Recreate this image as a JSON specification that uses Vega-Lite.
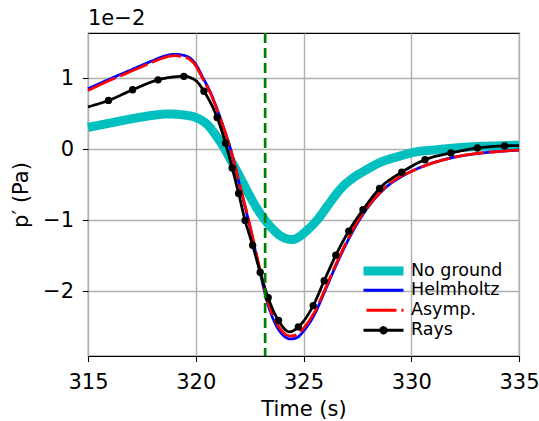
{
  "$schema": "https://vega.github.io/schema/vega-lite/v6.json",
  "width": 431,
  "height": 323,
  "autosize": {"type": "none"},
  "padding": {"left": 88, "top": 33, "right": 20, "bottom": 65},
  "background": "white",
  "title": {"text": "1e−2", "anchor": "start", "frame": "group", "baseline": "alphabetic", "offset": -14, "fontSize": 21, "font": "DejaVu Sans", "fontWeight": "normal", "color": "black"},
  "config": {
    "font": "DejaVu Sans",
    "view": {"stroke": "black", "strokeWidth": 1.1},
    "axis": {
      "labelFont": "DejaVu Sans", "labelFontSize": 21, "labelColor": "black",
      "titleFont": "DejaVu Sans", "titleFontSize": 21, "titleFontWeight": "normal", "titleColor": "black",
      "tickColor": "black", "tickSize": 5.5, "tickWidth": 1.1, "domain": false, "labelFlush": false,
      "grid": true, "gridColor": "#b0b0b0", "gridWidth": 1.4
    },
    "legend": {
      "labelFont": "DejaVu Sans", "labelFontSize": 17.5, "labelColor": "black"
    }
  },
  "datasets": {
    "curves": [
      {"series": "No ground", "t": 315, "p": 0.31},
      {"series": "No ground", "t": 316, "p": 0.37},
      {"series": "No ground", "t": 317, "p": 0.43},
      {"series": "No ground", "t": 318, "p": 0.48},
      {"series": "No ground", "t": 318.7, "p": 0.50},
      {"series": "No ground", "t": 319.3, "p": 0.49},
      {"series": "No ground", "t": 320, "p": 0.45},
      {"series": "No ground", "t": 320.6, "p": 0.33},
      {"series": "No ground", "t": 321, "p": 0.17},
      {"series": "No ground", "t": 321.3, "p": 0.03},
      {"series": "No ground", "t": 321.7, "p": -0.19},
      {"series": "No ground", "t": 322.14, "p": -0.44},
      {"series": "No ground", "t": 322.5, "p": -0.65},
      {"series": "No ground", "t": 322.9, "p": -0.86},
      {"series": "No ground", "t": 323.2, "p": -0.99},
      {"series": "No ground", "t": 323.6, "p": -1.13},
      {"series": "No ground", "t": 324, "p": -1.23},
      {"series": "No ground", "t": 324.5, "p": -1.27},
      {"series": "No ground", "t": 324.8, "p": -1.23},
      {"series": "No ground", "t": 325.2, "p": -1.13},
      {"series": "No ground", "t": 325.7, "p": -0.97},
      {"series": "No ground", "t": 326.2, "p": -0.76},
      {"series": "No ground", "t": 326.8, "p": -0.53},
      {"series": "No ground", "t": 327.4, "p": -0.38},
      {"series": "No ground", "t": 327.9, "p": -0.29},
      {"series": "No ground", "t": 328.5, "p": -0.19},
      {"series": "No ground", "t": 329.4, "p": -0.1},
      {"series": "No ground", "t": 330.3, "p": -0.03},
      {"series": "No ground", "t": 331, "p": -0.01},
      {"series": "No ground", "t": 332, "p": 0.02},
      {"series": "No ground", "t": 333, "p": 0.04},
      {"series": "No ground", "t": 334, "p": 0.05},
      {"series": "No ground", "t": 335, "p": 0.06},
      {"series": "Helmholtz", "t": 315, "p": 0.855},
      {"series": "Helmholtz", "t": 316, "p": 0.99},
      {"series": "Helmholtz", "t": 317, "p": 1.12},
      {"series": "Helmholtz", "t": 318, "p": 1.25},
      {"series": "Helmholtz", "t": 318.5, "p": 1.31},
      {"series": "Helmholtz", "t": 319, "p": 1.34},
      {"series": "Helmholtz", "t": 319.5, "p": 1.32},
      {"series": "Helmholtz", "t": 320, "p": 1.2},
      {"series": "Helmholtz", "t": 320.3, "p": 1.03},
      {"series": "Helmholtz", "t": 320.7, "p": 0.79},
      {"series": "Helmholtz", "t": 321, "p": 0.56},
      {"series": "Helmholtz", "t": 321.3, "p": 0.3},
      {"series": "Helmholtz", "t": 321.6, "p": 0.02},
      {"series": "Helmholtz", "t": 322, "p": -0.46},
      {"series": "Helmholtz", "t": 322.5, "p": -1.07},
      {"series": "Helmholtz", "t": 323, "p": -1.75},
      {"series": "Helmholtz", "t": 323.3, "p": -2.13},
      {"series": "Helmholtz", "t": 323.7, "p": -2.46},
      {"series": "Helmholtz", "t": 324, "p": -2.6},
      {"series": "Helmholtz", "t": 324.4, "p": -2.67},
      {"series": "Helmholtz", "t": 324.7, "p": -2.65},
      {"series": "Helmholtz", "t": 325, "p": -2.56},
      {"series": "Helmholtz", "t": 325.5, "p": -2.33},
      {"series": "Helmholtz", "t": 326, "p": -1.99},
      {"series": "Helmholtz", "t": 326.5, "p": -1.64},
      {"series": "Helmholtz", "t": 327, "p": -1.32},
      {"series": "Helmholtz", "t": 327.5, "p": -1.04},
      {"series": "Helmholtz", "t": 328, "p": -0.81},
      {"series": "Helmholtz", "t": 328.5, "p": -0.63},
      {"series": "Helmholtz", "t": 329, "p": -0.49},
      {"series": "Helmholtz", "t": 329.5, "p": -0.39},
      {"series": "Helmholtz", "t": 330, "p": -0.31},
      {"series": "Helmholtz", "t": 331, "p": -0.19},
      {"series": "Helmholtz", "t": 332, "p": -0.11},
      {"series": "Helmholtz", "t": 333, "p": -0.06},
      {"series": "Helmholtz", "t": 334, "p": -0.03},
      {"series": "Helmholtz", "t": 335, "p": -0.01},
      {"series": "Asymp.", "t": 315, "p": 0.83},
      {"series": "Asymp.", "t": 316, "p": 0.97},
      {"series": "Asymp.", "t": 317, "p": 1.1},
      {"series": "Asymp.", "t": 318, "p": 1.23},
      {"series": "Asymp.", "t": 318.5, "p": 1.29},
      {"series": "Asymp.", "t": 319, "p": 1.32},
      {"series": "Asymp.", "t": 319.5, "p": 1.3},
      {"series": "Asymp.", "t": 320, "p": 1.18},
      {"series": "Asymp.", "t": 320.3, "p": 1.01},
      {"series": "Asymp.", "t": 320.7, "p": 0.78},
      {"series": "Asymp.", "t": 321, "p": 0.55},
      {"series": "Asymp.", "t": 321.3, "p": 0.3},
      {"series": "Asymp.", "t": 321.6, "p": 0.02},
      {"series": "Asymp.", "t": 322, "p": -0.45},
      {"series": "Asymp.", "t": 322.5, "p": -1.05},
      {"series": "Asymp.", "t": 323, "p": -1.72},
      {"series": "Asymp.", "t": 323.3, "p": -2.1},
      {"series": "Asymp.", "t": 323.7, "p": -2.42},
      {"series": "Asymp.", "t": 324, "p": -2.56},
      {"series": "Asymp.", "t": 324.4, "p": -2.63},
      {"series": "Asymp.", "t": 324.7, "p": -2.61},
      {"series": "Asymp.", "t": 325, "p": -2.52},
      {"series": "Asymp.", "t": 325.5, "p": -2.3},
      {"series": "Asymp.", "t": 326, "p": -1.97},
      {"series": "Asymp.", "t": 326.5, "p": -1.62},
      {"series": "Asymp.", "t": 327, "p": -1.3},
      {"series": "Asymp.", "t": 327.5, "p": -1.02},
      {"series": "Asymp.", "t": 328, "p": -0.8},
      {"series": "Asymp.", "t": 328.5, "p": -0.62},
      {"series": "Asymp.", "t": 329, "p": -0.48},
      {"series": "Asymp.", "t": 329.5, "p": -0.38},
      {"series": "Asymp.", "t": 330, "p": -0.31},
      {"series": "Asymp.", "t": 331, "p": -0.19},
      {"series": "Asymp.", "t": 332, "p": -0.11},
      {"series": "Asymp.", "t": 333, "p": -0.06},
      {"series": "Asymp.", "t": 334, "p": -0.03},
      {"series": "Asymp.", "t": 335, "p": -0.01},
      {"series": "Rays", "t": 315, "p": 0.6},
      {"series": "Rays", "t": 315.95, "p": 0.69},
      {"series": "Rays", "t": 317.07, "p": 0.84},
      {"series": "Rays", "t": 318.25, "p": 0.98},
      {"series": "Rays", "t": 319.45, "p": 1.03},
      {"series": "Rays", "t": 320, "p": 0.97},
      {"series": "Rays", "t": 320.38, "p": 0.82},
      {"series": "Rays", "t": 320.99, "p": 0.45},
      {"series": "Rays", "t": 321.38, "p": 0.09},
      {"series": "Rays", "t": 321.69, "p": -0.26},
      {"series": "Rays", "t": 321.99, "p": -0.62},
      {"series": "Rays", "t": 322.29, "p": -1.0},
      {"series": "Rays", "t": 322.64, "p": -1.35},
      {"series": "Rays", "t": 322.99, "p": -1.73},
      {"series": "Rays", "t": 323.36, "p": -2.09},
      {"series": "Rays", "t": 323.84, "p": -2.41},
      {"series": "Rays", "t": 324.35, "p": -2.57},
      {"series": "Rays", "t": 324.76, "p": -2.5},
      {"series": "Rays", "t": 325.45, "p": -2.2},
      {"series": "Rays", "t": 325.96, "p": -1.85},
      {"series": "Rays", "t": 326.5, "p": -1.49},
      {"series": "Rays", "t": 327.1, "p": -1.15},
      {"series": "Rays", "t": 327.76, "p": -0.85},
      {"series": "Rays", "t": 328.53, "p": -0.55},
      {"series": "Rays", "t": 329.56, "p": -0.32},
      {"series": "Rays", "t": 330.64, "p": -0.145},
      {"series": "Rays", "t": 331.84, "p": -0.05},
      {"series": "Rays", "t": 333.07, "p": 0.02},
      {"series": "Rays", "t": 334.33, "p": 0.05},
      {"series": "Rays", "t": 335, "p": 0.055}
    ],
    "markers": [
      {"t": 315.95, "p": 0.69},
      {"t": 317.07, "p": 0.84},
      {"t": 318.25, "p": 0.98},
      {"t": 319.45, "p": 1.03},
      {"t": 320.38, "p": 0.82},
      {"t": 320.99, "p": 0.45},
      {"t": 321.38, "p": 0.09},
      {"t": 321.69, "p": -0.26},
      {"t": 321.99, "p": -0.62},
      {"t": 322.29, "p": -1.0},
      {"t": 322.64, "p": -1.35},
      {"t": 322.99, "p": -1.73},
      {"t": 323.36, "p": -2.09},
      {"t": 323.84, "p": -2.41},
      {"t": 324.76, "p": -2.5},
      {"t": 325.45, "p": -2.2},
      {"t": 325.96, "p": -1.85},
      {"t": 326.5, "p": -1.49},
      {"t": 327.1, "p": -1.15},
      {"t": 327.76, "p": -0.85},
      {"t": 328.53, "p": -0.55},
      {"t": 329.56, "p": -0.32},
      {"t": 330.64, "p": -0.145},
      {"t": 331.84, "p": -0.05},
      {"t": 333.07, "p": 0.02},
      {"t": 334.33, "p": 0.05}
    ],
    "vline": [{"t": 323.22}]
  },
  "layer": [
    {
      "data": {"name": "curves"},
      "mark": {"type": "line", "interpolate": "monotone"},
      "encoding": {
        "x": {"field": "t", "type": "quantitative", "scale": {"domain": [315, 335], "nice": false, "zero": false},
              "axis": {"values": [315, 320, 325, 330, 335], "format": "d", "title": "Time (s)", "labelPadding": 10, "titlePadding": 6}},
        "y": {"field": "p", "type": "quantitative", "scale": {"domain": [-2.91, 1.64], "nice": false, "zero": false},
              "axis": {"values": [-2, -1, 0, 1], "format": "d", "title": "p′ (Pa)", "labelPadding": 9, "titlePadding": 11}},
        "color": {"field": "series", "type": "nominal",
          "scale": {"domain": ["No ground", "Helmholtz", "Asymp.", "Rays"], "range": ["#00bfbf", "#0000ff", "#ff0000", "#000000"]},
          "legend": {"title": null, "orient": "none", "legendX": 286, "legendY": 228.5,
            "symbolSize": 100, "labelOffset": 18, "rowPadding": 1,
            "encode": {"symbols": {"update": {
              "shape": {"signal": "datum.value === 'Rays' ? 'M-4,0H4M0.55,0A0.55,0.55,0,1,1,-0.55,0A0.55,0.55,0,1,1,0.55,0Z' : 'M-4,0H4'"},
              "fill": {"signal": "datum.value === 'Rays' ? '#000000' : 'transparent'"},
              "strokeWidth": {"signal": "datum.value === 'No ground' ? 9 : 2.8"},
              "strokeJoin": {"value": "round"},
              "strokeDash": {"signal": "datum.value === 'Asymp.' ? [33, 20] : [1, 0]"},
              "strokeDashOffset": {"signal": "datum.value === 'Asymp.' ? -3 : 0"}
            }}}}
        },
        "strokeWidth": {"field": "series", "type": "nominal",
          "scale": {"type": "ordinal", "domain": ["No ground", "Helmholtz", "Asymp.", "Rays"], "range": [9, 2.8, 2.8, 2.8]},
          "legend": {"title": null}},
        "strokeDash": {"field": "series", "type": "nominal",
          "scale": {"type": "ordinal", "domain": ["No ground", "Helmholtz", "Asymp.", "Rays"], "range": [[1, 0], [1, 0], [30, 5], [1, 0]]},
          "legend": null}
      }
    },
    {
      "data": {"name": "markers"},
      "mark": {"type": "point", "filled": true, "size": 54, "color": "#000000", "opacity": 1},
      "encoding": {"x": {"field": "t", "type": "quantitative"}, "y": {"field": "p", "type": "quantitative"}}
    },
    {
      "data": {"name": "vline"},
      "mark": {"type": "rule", "color": "#008000", "strokeWidth": 2.7, "strokeDash": [10, 5]},
      "encoding": {"x": {"field": "t", "type": "quantitative"}}
    }
  ]
}
